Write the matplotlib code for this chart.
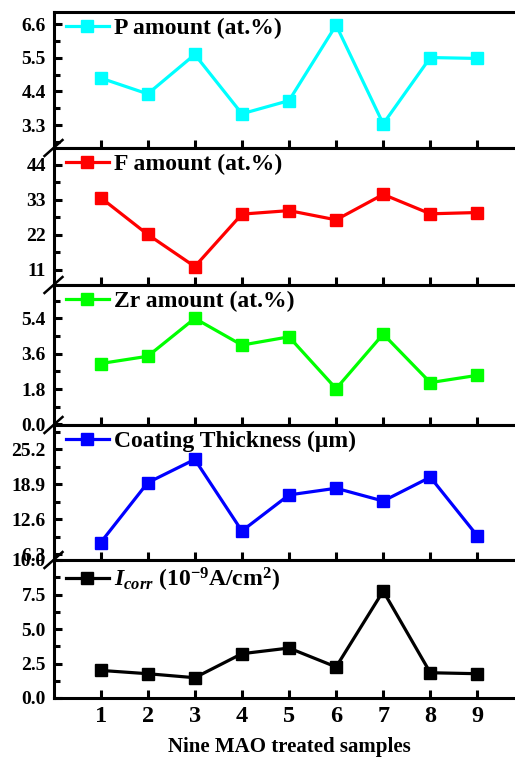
import matplotlib
matplotlib.use("Agg")
from matplotlib import pyplot as plt
from matplotlib.ticker import MultipleLocator, FormatStrFormatter
from matplotlib.lines import Line2D

plt.rcParams['font.family'] = ['Liberation Serif', 'DejaVu Serif']
plt.rcParams['font.weight'] = 'bold'
plt.rcParams['mathtext.fontset'] = 'custom'
plt.rcParams['mathtext.rm'] = 'Liberation Serif:bold'
plt.rcParams['mathtext.it'] = 'Liberation Serif:italic:bold'
plt.rcParams['mathtext.bf'] = 'Liberation Serif:bold'

samples = [1, 2, 3, 4, 5, 6, 7, 8, 9]
p_amount = [4.84, 4.32, 5.61, 3.67, 4.10, 6.57, 3.34, 5.51, 5.48]
f_amount = [33.7, 22.1, 12.0, 28.5, 29.6, 26.7, 34.7, 28.6, 29.0]
zr_amount = [3.10, 3.47, 5.40, 4.04, 4.46, 1.82, 4.60, 2.13, 2.50]
thickness = [8.4, 19.2, 23.4, 10.5, 17.0, 18.2, 15.9, 20.2, 9.6]
icorr = [2.00, 1.76, 1.47, 3.21, 3.62, 2.25, 7.75, 1.83, 1.76]

labels = ['P amount (at.%)', 'F amount (at.%)', 'Zr amount (at.%)',
          'Coating Thickness (\u03bcm)',
          r'$\mathit{I}_{\mathit{corr}}$ (10$^{-9}$A/cm$^{2}$)']
series = [p_amount, f_amount, zr_amount, thickness, icorr]
colors = ['#00FFFF', '#FF0000', '#00FF00', '#0000FF', '#000000']
ylims = [(2.55, 7.0), (6.2, 49.3), (-0.03, 7.1), (5.27, 29.6), (0.0, 10.0)]
majors = [1.1, 11, 1.8, 6.3, 2.5]
fmts = ['%.1f', '%d', '%.1f', '%.1f', '%.1f']

W, H = 515, 769
fig = plt.figure(figsize=(W / 100, H / 100), dpi=100)

# panel borders in pixels (top to bottom)
edges = [12, 148, 285, 425, 560, 698]
left_px = 53.5
width_px = 471.0

axes = []
for i in range(5):
    top, bot = edges[i], edges[i + 1]
    ax = fig.add_axes([left_px / W, 1 - bot / H, width_px / W, (bot - top) / H])
    ax.plot(samples, series[i], color=colors[i], lw=2.3, marker='s',
            ms=9, label=labels[i])
    ax.set_xlim(0, 10)
    ax.set_ylim(*ylims[i])
    ax.set_xticks(samples)
    ax.yaxis.set_major_locator(MultipleLocator(majors[i]))
    ax.yaxis.set_minor_locator(MultipleLocator(majors[i] / 2))
    ax.yaxis.set_major_formatter(FormatStrFormatter(fmts[i]))
    for s in ['left', 'top', 'bottom']:
        ax.spines[s].set_linewidth(2.2)
    ax.spines['right'].set_visible(False)
    ax.tick_params(axis='both', which='major', direction='in', length=6,
                   width=2.2, labelsize=14, pad=5.5)
    ax.tick_params(axis='y', which='minor', direction='in', length=4, width=2.2)
    ax.tick_params(top=False, right=False)
    if i < 4:
        ax.tick_params(axis='x', labelbottom=False)
    else:
        ax.tick_params(axis='x', labelsize=17.5, pad=6)
        ax.set_xlabel('Nine MAO treated samples', fontsize=15,
                      fontweight='bold', labelpad=7)
    for t in ax.get_yticklabels() + ax.get_xticklabels():
        t.set_fontweight('bold')
    leg = ax.legend(loc='upper left', frameon=False, fontsize=17,
                    handlelength=1.85, handletextpad=0.2,
                    borderaxespad=0.0, borderpad=0.25,
                    bbox_to_anchor=(0.013, 1.0))
    for t in leg.get_texts():
        t.set_fontweight('bold')
    axes.append(ax)

# axis-break slashes on the left spine at each boundary
for b in edges[1:5]:
    x0, x1 = left_px - 9, left_px + 9
    y0, y1 = b + 8, b - 8
    fig.add_artist(Line2D([x0 / W, x1 / W], [1 - y0 / H, 1 - y1 / H],
                          color='black', lw=1.8, transform=fig.transFigure))

fig.savefig('out.png', dpi=100)
